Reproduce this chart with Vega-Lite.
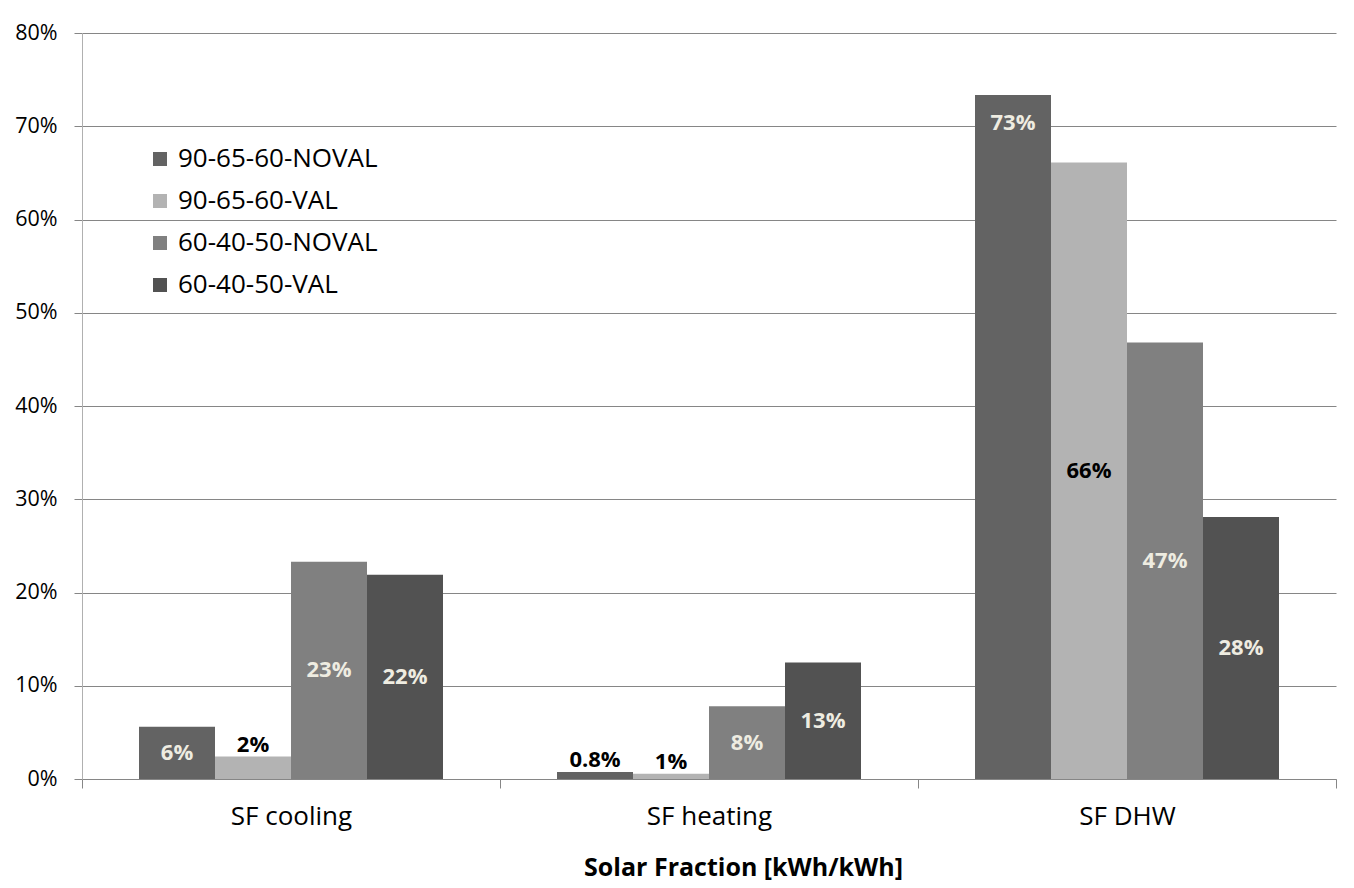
{
  "$schema": "https://vega.github.io/schema/vega-lite/v6.json",
  "width": 1254,
  "height": 746,
  "autosize": {"type": "none"},
  "padding": {"left": 82, "top": 33, "right": 18, "bottom": 109},
  "background": "white",
  "config": {"view": {"stroke": null}, "font": "Open Sans"},
  "data": {
    "values": [
      {"category": "SF cooling", "series": "90-65-60-NOVAL", "value": 0.056, "label": "6%", "anchor": "mid"},
      {"category": "SF cooling", "series": "90-65-60-VAL", "value": 0.024, "label": "2%", "anchor": "above"},
      {"category": "SF cooling", "series": "60-40-50-NOVAL", "value": 0.233, "label": "23%", "anchor": "mid"},
      {"category": "SF cooling", "series": "60-40-50-VAL", "value": 0.219, "label": "22%", "anchor": "mid"},
      {"category": "SF heating", "series": "90-65-60-NOVAL", "value": 0.0075, "label": "0.8%", "anchor": "above"},
      {"category": "SF heating", "series": "90-65-60-VAL", "value": 0.0055, "label": "1%", "anchor": "above"},
      {"category": "SF heating", "series": "60-40-50-NOVAL", "value": 0.078, "label": "8%", "anchor": "mid"},
      {"category": "SF heating", "series": "60-40-50-VAL", "value": 0.125, "label": "13%", "anchor": "mid"},
      {"category": "SF DHW", "series": "90-65-60-NOVAL", "value": 0.7335, "label": "73%", "anchor": "inside"},
      {"category": "SF DHW", "series": "90-65-60-VAL", "value": 0.661, "label": "66%", "anchor": "mid"},
      {"category": "SF DHW", "series": "60-40-50-NOVAL", "value": 0.468, "label": "47%", "anchor": "mid"},
      {"category": "SF DHW", "series": "60-40-50-VAL", "value": 0.281, "label": "28%", "anchor": "mid"}
    ]
  },
  "encoding": {
    "x": {
      "field": "category",
      "type": "nominal",
      "sort": ["SF cooling", "SF heating", "SF DHW"],
      "scale": {"paddingInner": 0, "paddingOuter": 0},
      "title": "Solar Fraction [kWh/kWh]",
      "axis": {
        "labelAngle": 0,
        "labelFontSize": 26,
        "labelColor": "#000000",
        "labelPadding": 15,
        "tickBand": "extent",
        "ticks": true,
        "tickSize": 9,
        "tickColor": "#868686",
        "domainColor": "#868686",
        "titleFontSize": 25,
        "titleFontWeight": "bold",
        "titleColor": "#000000",
        "titlePadding": 26,
        "titleX": 661,
        "titleAlign": "center"
      }
    },
    "xOffset": {
      "field": "series",
      "sort": ["90-65-60-NOVAL", "90-65-60-VAL", "60-40-50-NOVAL", "60-40-50-VAL"],
      "scale": {"paddingInner": 0, "paddingOuter": 0.75}
    }
  },
  "layer": [
    {
      "mark": {"type": "bar"},
      "encoding": {
        "y": {
          "field": "value",
          "type": "quantitative",
          "scale": {"domain": [0, 0.8]},
          "title": null,
          "axis": {
            "values": [0, 0.1, 0.2, 0.3, 0.4, 0.5, 0.6, 0.7, 0.8],
            "format": ".0%",
            "labelFontSize": 21.5,
            "labelColor": "#000000",
            "labelPadding": 17,
            "tickSize": 8,
            "tickColor": "#868686",
            "grid": true,
            "gridColor": "#868686",
            "gridWidth": 1,
            "domainColor": "#b0b0b0"
          }
        },
        "color": {
          "field": "series",
          "type": "nominal",
          "sort": ["90-65-60-NOVAL", "90-65-60-VAL", "60-40-50-NOVAL", "60-40-50-VAL"],
          "scale": {
            "domain": ["90-65-60-NOVAL", "90-65-60-VAL", "60-40-50-NOVAL", "60-40-50-VAL"],
            "range": ["#636363", "#b3b3b3", "#808080", "#525252"]
          },
          "legend": {
            "title": null,
            "orient": "none",
            "legendX": 65,
            "legendY": 113,
            "labelFontSize": 26,
            "labelLimit": 500,
            "labelColor": "#000000",
            "labelOffset": 5,
            "symbolType": "square",
            "symbolSize": 196,
            "symbolStrokeWidth": 0,
            "rowPadding": 16,
            "padding": 0
          }
        }
      }
    },
    {
      "transform": [
        {"filter": "datum.anchor === 'mid'"},
        {"calculate": "datum.value / 2", "as": "mid"}
      ],
      "mark": {"type": "text", "fontSize": 22, "fontWeight": "bold", "baseline": "middle", "align": "center"},
      "encoding": {
        "y": {"field": "mid", "type": "quantitative", "title": null},
        "text": {"field": "label"},
        "color": {
          "condition": {"test": "datum.series === '90-65-60-VAL'", "value": "#000000"},
          "value": "#eeece1"
        }
      }
    },
    {
      "transform": [{"filter": "datum.anchor === 'above'"}],
      "mark": {"type": "text", "fontSize": 22, "fontWeight": "bold", "baseline": "bottom", "align": "center", "dy": 0, "color": "#000000"},
      "encoding": {
        "y": {"field": "value", "type": "quantitative", "title": null},
        "text": {"field": "label"}
      }
    },
    {
      "transform": [{"filter": "datum.anchor === 'inside'"}],
      "mark": {"type": "text", "fontSize": 22, "fontWeight": "bold", "baseline": "middle", "align": "center", "dy": 28, "color": "#eeece1"},
      "encoding": {
        "y": {"field": "value", "type": "quantitative", "title": null},
        "text": {"field": "label"}
      }
    }
  ]
}
